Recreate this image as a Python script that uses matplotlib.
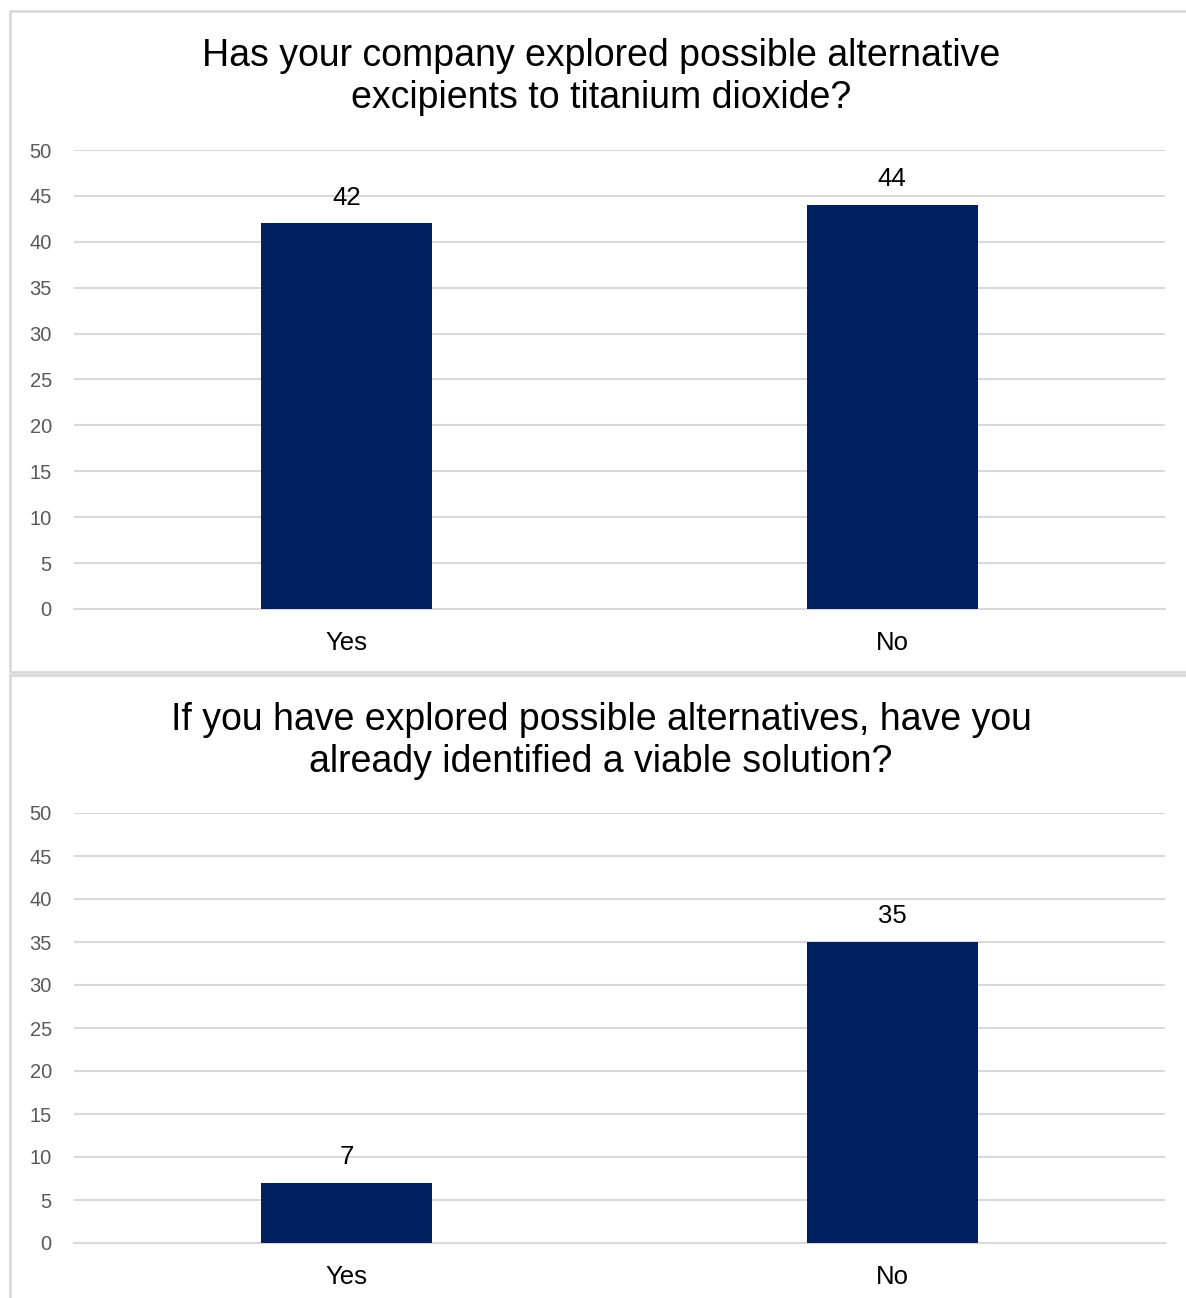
import matplotlib.pyplot as plt
from matplotlib.patches import Rectangle

# survey answers
categories = ['Yes', 'No']
explored_counts = [42, 44]
solution_counts = [7, 35]
titles = ['Has your company explored possible alternative\nexcipients to titanium dioxide?',
          'If you have explored possible alternatives, have you\nalready identified a viable solution?']
yticks = [0, 5, 10, 15, 20, 25, 30, 35, 40, 45, 50]

W, H = 1186, 1298
BAR_COLOR = '#002060'
GRID_COLOR = '#d9d9d9'
plt.rcParams['font.family'] = ['Liberation Sans', 'DejaVu Sans']

fig = plt.figure(figsize=(W / 100, H / 100), dpi=100)


def box(x0, y0, x1, y1):
    # pixel box (top-left origin) -> figure fraction rect
    return [x0 / W, 1 - y1 / H, (x1 - x0) / W, (y1 - y0) / H]


# panel frames
for (x0, y0, x1, y1) in [(10, 11, 1200, 672), (10, 675, 1200, 1310)]:
    fig.patches.append(Rectangle((x0 / W, 1 - y1 / H), (x1 - x0) / W, (y1 - y0) / H,
                                 transform=fig.transFigure, fill=False,
                                 edgecolor=GRID_COLOR, linewidth=2))

panels = [
    (explored_counts, titles[0], (74, 150, 1165, 609), 77),
    (solution_counts, titles[1], (74, 813, 1165, 1243), 741),
]

for values, title, rect, title_y in panels:
    ax = fig.add_axes(box(*rect))
    xs = range(len(categories))
    bars = ax.bar(xs, values, width=0.313, color=BAR_COLOR, zorder=3)
    for b, v in zip(bars, values):
        ax.annotate(str(v), (b.get_x() + b.get_width() / 2, v), xytext=(0, 10),
                    textcoords='offset points', ha='center', va='bottom',
                    fontsize=18.5, color='black')
    ax.set_xlim(-0.5, 1.5)
    ax.set_ylim(0, 50)
    ax.set_yticks(yticks)
    ax.set_xticks(list(xs))
    ax.set_xticklabels(categories)
    ax.tick_params(axis='y', length=0, pad=16, labelsize=14.5, labelcolor='#595959')
    ax.tick_params(axis='x', length=0, pad=16, labelsize=18.5, labelcolor='black')
    ax.grid(axis='y', color=GRID_COLOR, linewidth=1.5, zorder=0)
    for s in ['top', 'right', 'left']:
        ax.spines[s].set_visible(False)
    ax.spines['bottom'].set_color(GRID_COLOR)
    ax.spines['bottom'].set_linewidth(1.5)
    fig.text(601 / W, 1 - title_y / H, title, ha='center', va='center',
             fontsize=27, color='black', linespacing=1.22)

fig.savefig('out.png', dpi=100)
